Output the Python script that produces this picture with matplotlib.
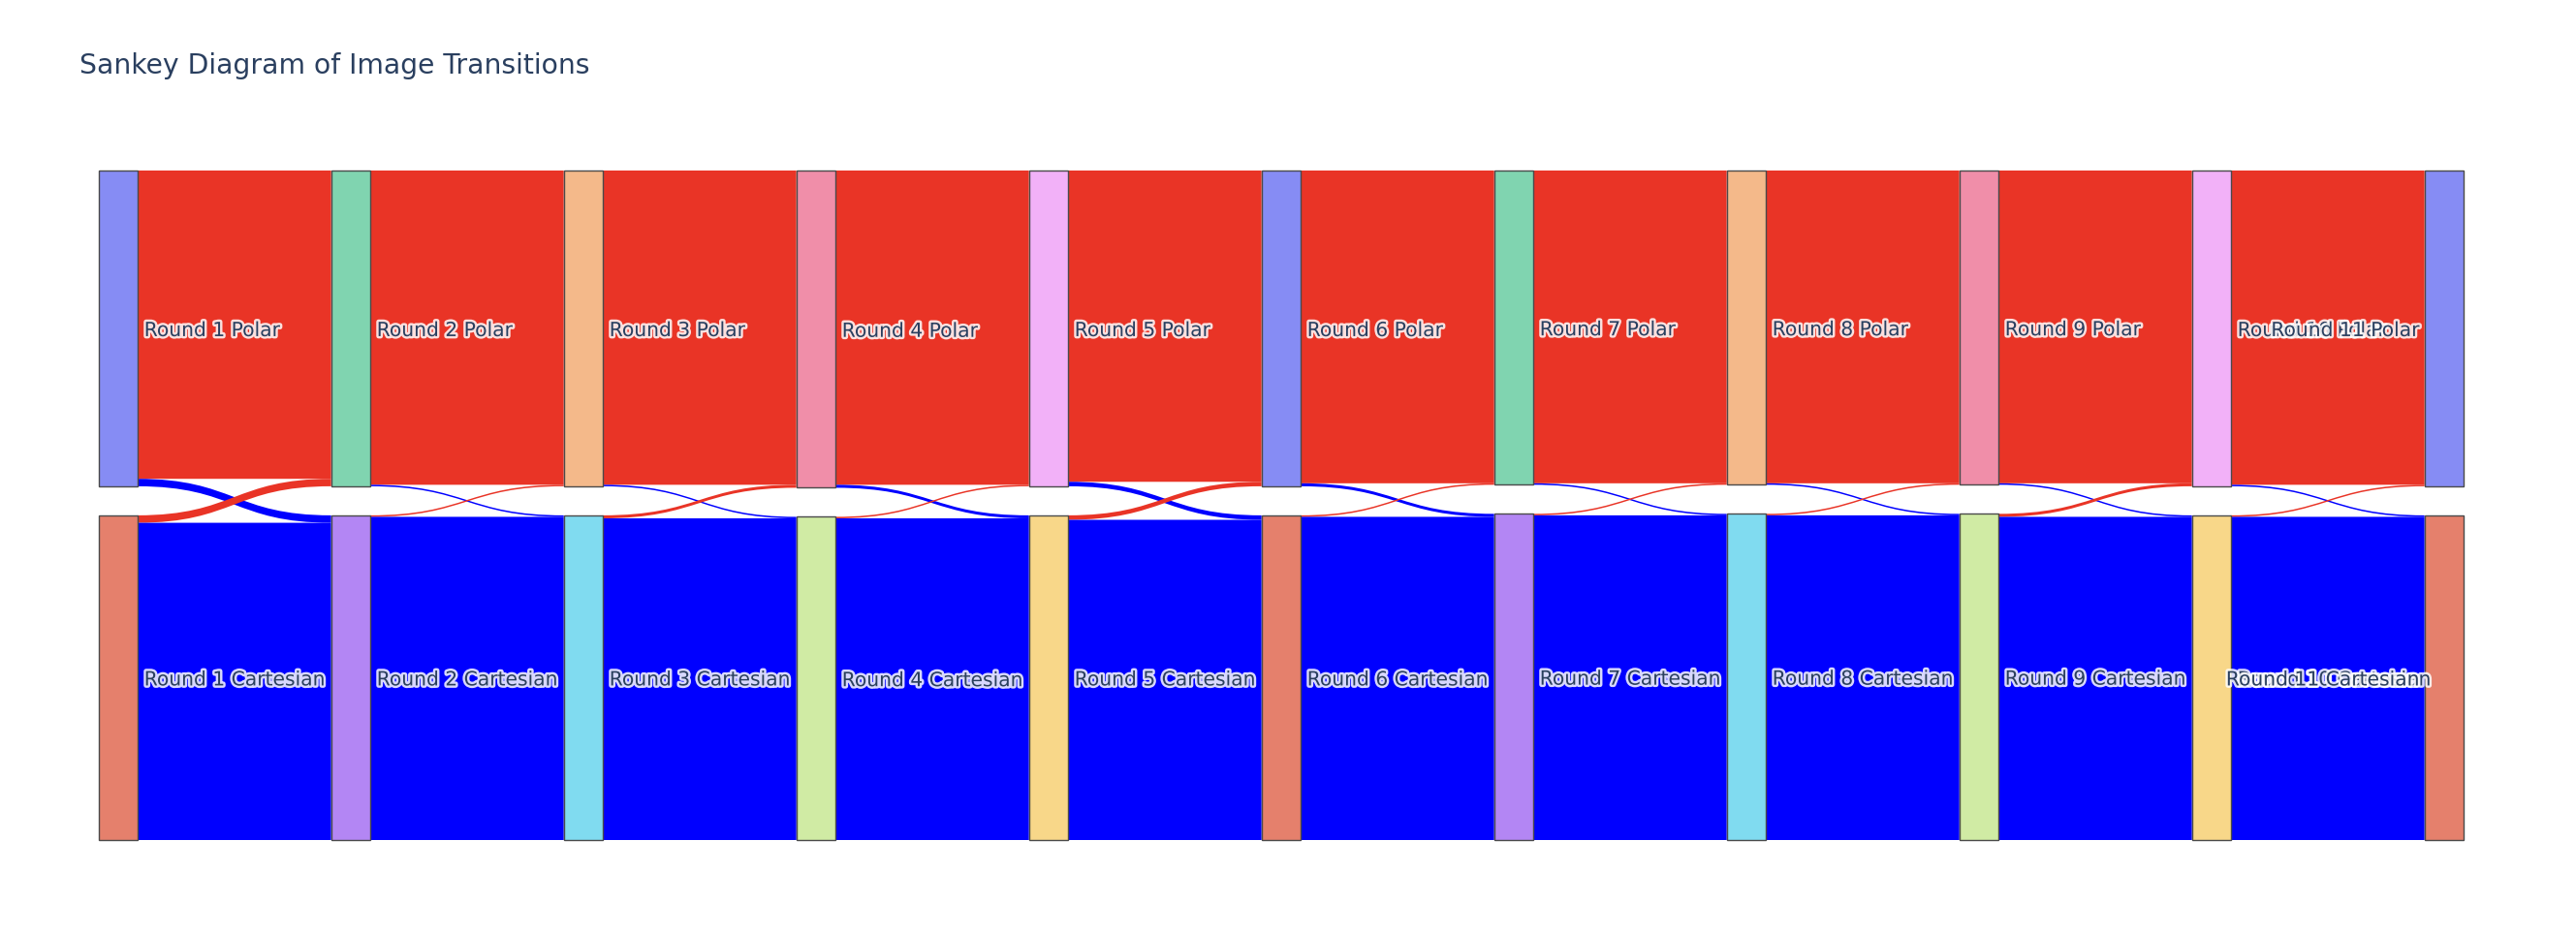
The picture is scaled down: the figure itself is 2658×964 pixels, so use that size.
import matplotlib
matplotlib.use("Agg")
import matplotlib.pyplot as plt
import matplotlib.patheffects as pe
from matplotlib.path import Path
from matplotlib.patches import PathPatch, Rectangle

# data: image counts per round and transitions between rounds
rounds = [f"Round {i}" for i in range(1, 12)]
kinds = ["Polar", "Cartesian"]
start_polar = 212
start_cart = 218
polar_to_cart = [5, 1, 1, 2, 3, 2, 1, 1, 1, 1]
cart_to_polar = [5, 1, 2, 1, 3, 1, 1, 1, 2, 1]

# node colours as they appear (plotly colorway, faded)
node_colors = ['#868cf4', '#e5806c', '#80d4b0', '#b386f4', '#f4b98a',
               '#80dbf0', '#f08ea9', '#d0eba4', '#f2b1f8', '#f8d789']
red_link = '#e93426'
blue_link = '#0000ff'

# counts per node
polar = [start_polar]
cart = [start_cart]
for pc, cp in zip(polar_to_cart, cart_to_polar):
    polar.append(polar[-1] - pc + cp)
    cart.append(cart[-1] - cp + pc)

W, H = 2658, 964
fig = plt.figure(figsize=(W / 100, H / 100), dpi=100)
ax = fig.add_axes([0, 0, 1, 1])
ax.set_xlim(0, W)
ax.set_ylim(H, 0)
ax.axis('off')

x0 = 101.7
step = 240
nw = 40
ytop, ybot = 176, 867
pad = 30
ky = (ybot - ytop - pad) / max(p + c for p, c in zip(polar, cart))

def node_box(k, kind):
    if kind == 0:
        return ytop, ytop + polar[k] * ky
    return ybot - cart[k] * ky, ybot

def band(xs, xt, ys0, ys1, yt0, yt1, color):
    xm = (xs + xt) / 2
    verts = [(xs, ys0), (xm, ys0), (xm, yt0), (xt, yt0),
             (xt, yt1), (xm, yt1), (xm, ys1), (xs, ys1), (xs, ys0)]
    codes = [Path.MOVETO, Path.CURVE4, Path.CURVE4, Path.CURVE4,
             Path.LINETO, Path.CURVE4, Path.CURVE4, Path.CURVE4, Path.CLOSEPOLY]
    ax.add_patch(PathPatch(Path(verts, codes), facecolor=color,
                           edgecolor='none', lw=0, antialiased=True))

# links
for k in range(len(polar_to_cart)):
    xs = x0 + k * step + nw
    xt = x0 + (k + 1) * step
    pp = polar[k] - polar_to_cart[k]
    cc = cart[k] - cart_to_polar[k]
    sp0, _ = node_box(k, 0)
    sc0, _ = node_box(k, 1)
    tp0, _ = node_box(k + 1, 0)
    tc0, _ = node_box(k + 1, 1)
    # polar -> polar
    band(xs, xt, sp0, sp0 + pp * ky, tp0, tp0 + pp * ky, red_link)
    # polar -> cartesian
    a = sp0 + pp * ky
    b = tc0
    band(xs, xt, a, a + polar_to_cart[k] * ky, b, b + polar_to_cart[k] * ky, blue_link)
    # cartesian -> polar
    a = sc0
    b = tp0 + pp * ky
    band(xs, xt, a, a + cart_to_polar[k] * ky, b, b + cart_to_polar[k] * ky, red_link)
    # cartesian -> cartesian
    a = sc0 + cart_to_polar[k] * ky
    b = tc0 + polar_to_cart[k] * ky
    band(xs, xt, a, a + cc * ky, b, b + cc * ky, blue_link)

# nodes and labels
halo = [pe.withStroke(linewidth=3.5, foreground='white', alpha=0.85)]
n = 0
for k, r in enumerate(rounds):
    for j, kind in enumerate(kinds):
        y0, y1 = node_box(k, j)
        xl = x0 + k * step
        ax.add_patch(Rectangle((xl, y0), nw, y1 - y0, facecolor=node_colors[n % 10],
                               edgecolor='#4a4a4a', lw=1.0))
        if k == len(rounds) - 1:
            tx, ha = xl - 5, 'right'
        else:
            tx, ha = xl + nw + 7, 'left'
        ax.text(tx, (y0 + y1) / 2 + 2.5, f"{r} {kind}", ha=ha, va='center',
                fontsize=14.6, color='#2a3f5f', family='DejaVu Sans',
                path_effects=halo)
        n += 1

ax.text(81.7, 75.7, "Sankey Diagram of Image Transitions", ha='left', va='baseline',
        fontsize=20.3, color='#2a3f5f', family='DejaVu Sans')

fig.savefig("out.png", dpi=100, facecolor='white')
